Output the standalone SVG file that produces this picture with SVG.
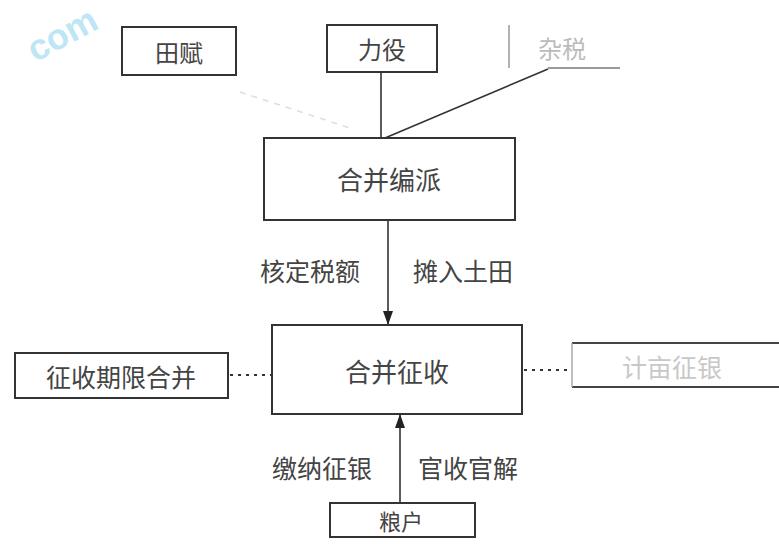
<svg xmlns="http://www.w3.org/2000/svg" width="779" height="554" viewBox="0 0 779 554">
<style>
.box{fill:#fff;stroke:#333;stroke-width:2}
.t{font-family:"Noto Sans CJK SC","Liberation Sans",sans-serif;fill:#444;text-anchor:middle;dominant-baseline:central}
.ln{stroke:#333;stroke-width:1.6;fill:none}
.dot{stroke:#333;stroke-width:2;stroke-dasharray:3 5;fill:none}
</style>
<defs>
<marker id="ah" markerWidth="14" markerHeight="10" refX="14" refY="5" orient="auto" markerUnits="userSpaceOnUse" viewBox="0 0 14 10">
<path d="M0,0 L14,5 L0,10 Z" fill="#222"/>
</marker>
</defs>
<rect width="779" height="554" fill="#fff"/>
<text x="62" y="34" transform="rotate(-28 62 34)" style="font-family:'Liberation Sans',sans-serif;font-size:36px;font-weight:bold;fill:#bfe6f5;text-anchor:middle;dominant-baseline:central">com</text>
<g id="tianfu">
<rect class="box" x="122" y="27" width="114" height="48"/>
<text class="t" x="179" y="51" style="font-size:24px">田赋</text>
</g>
<g id="liyi">
<rect class="box" x="327" y="25" width="110" height="47"/>
<text class="t" x="382" y="48" style="font-size:24px">力役</text>
</g>
<g id="zashui">
<line x1="509" y1="25" x2="509" y2="68" stroke="#999" stroke-width="1.5"/>
<text class="t" x="562" y="47" style="font-size:24px;fill:#bbb">杂税</text>
</g>
<g id="bianpai">
<rect class="box" x="264" y="138" width="251" height="82"/>
<text class="t" x="389" y="178" style="font-size:26px">合并编派</text>
</g>
<g id="zhengshou">
<rect class="box" x="272" y="325" width="250" height="89"/>
<text class="t" x="397" y="370" style="font-size:26px">合并征收</text>
</g>
<g id="qixian">
<rect class="box" x="15" y="353" width="213" height="45"/>
<text class="t" x="121" y="376" style="font-size:25px">征收期限合并</text>
</g>
<g id="zhengyin">
<line x1="572" y1="343" x2="779" y2="343" stroke="#444" stroke-width="2"/>
<line x1="572" y1="387" x2="779" y2="387" stroke="#444" stroke-width="2"/>
<line x1="572" y1="343" x2="572" y2="387" stroke="#aaa" stroke-width="1.5"/>
<text class="t" x="672" y="366" style="font-size:25px;fill:#c8c8c8">计亩征银</text>
</g>
<g id="lianghu">
<rect class="box" x="330" y="503" width="145" height="34"/>
<text class="t" x="401" y="520" style="font-size:22px">粮户</text>
</g>
<g id="connectors">
<line class="ln" x1="381" y1="72" x2="381" y2="138"/>
<line class="ln" x1="548" y1="69" x2="385" y2="138"/>
<line x1="548" y1="68" x2="620" y2="68" stroke="#777" stroke-width="1.5"/>
<line x1="240" y1="92" x2="350" y2="128" stroke="#ddd" stroke-width="1.5" stroke-dasharray="6 6"/>
<line class="ln" x1="388" y1="221" x2="388" y2="325" marker-end="url(#ah)"/>
<line class="ln" x1="400" y1="502" x2="400" y2="414" marker-end="url(#ah)"/>
<line class="dot" x1="230" y1="375" x2="271" y2="375"/>
<line class="dot" x1="524" y1="370" x2="570" y2="370"/>
<text class="t" x="310" y="270" style="font-size:25px">核定税额</text>
<text class="t" x="463" y="270" style="font-size:25px">摊入土田</text>
<text class="t" x="322" y="467" style="font-size:25px">缴纳征银</text>
<text class="t" x="468" y="467" style="font-size:25px">官收官解</text>
</g>
</svg>
